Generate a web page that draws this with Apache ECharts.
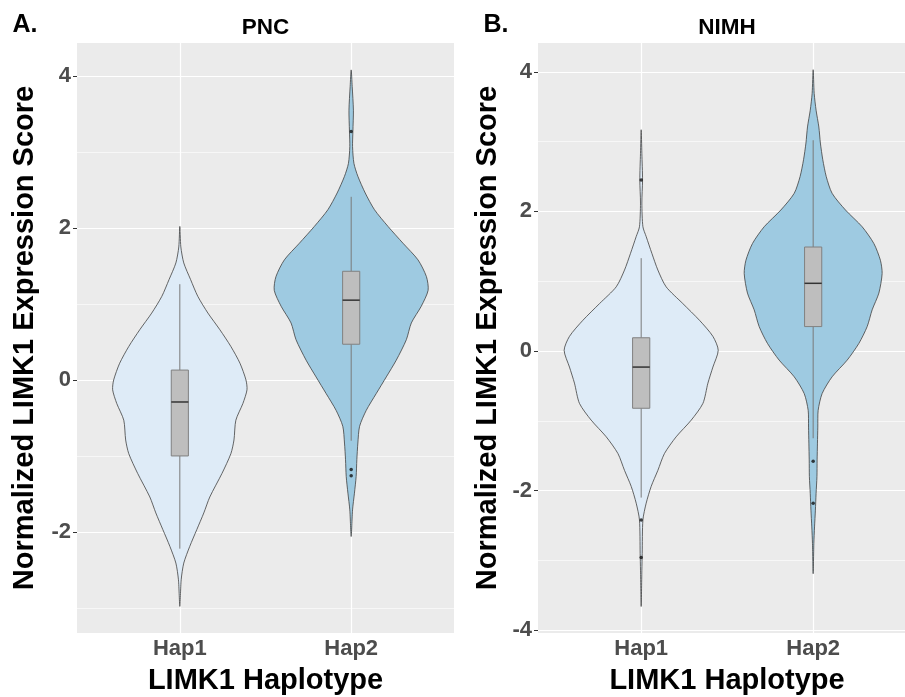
<!DOCTYPE html>
<html>
<head>
<meta charset="utf-8">
<script src="https://cdn.jsdelivr.net/npm/echarts@6/dist/echarts.min.js"></script>
<style>
  * { margin: 0; padding: 0; }
  body { background: #fff; }
  #main { width: 905px; height: 697px; }
</style>
</head>
<body>
<div id="main"></div>
<script>
// categories on the x axis (positions 1 and 2)
const categories = ['Hap1', 'Hap2'];
const fills = ['#DEEBF7', '#9ECAE1'];

// violin outlines: value, half width (x-axis units)
const pncHap1Val = [2.02, 1.75, 1.54, 1.32, 1.10, 0.88, 0.66, 0.44, 0.22, 0, -0.13, -0.31, -0.53, -0.79, -0.97, -1.23, -1.54, -1.75, -1.97, -2.19, -2.41, -2.63, -2.98];
const pncHap1Half = [0, 0.006, 0.023, 0.063, 0.105, 0.164, 0.234, 0.298, 0.351, 0.386, 0.392, 0.368, 0.327, 0.316, 0.298, 0.246, 0.175, 0.140, 0.099, 0.058, 0.023, 0.008, 0];
const pncHap2Val = [4.08, 3.86, 3.55, 3.27, 3.07, 2.85, 2.68, 2.46, 2.24, 2.02, 1.80, 1.58, 1.36, 1.18, 0.97, 0.75, 0.53, 0.26, 0.04, -0.18, -0.40, -0.61, -0.83, -1.05, -1.27, -1.49, -1.71, -2.06];
const pncHap2Half = [0, 0.006, 0.013, 0.010, 0.008, 0.016, 0.039, 0.082, 0.136, 0.215, 0.302, 0.390, 0.439, 0.449, 0.409, 0.351, 0.322, 0.263, 0.205, 0.146, 0.088, 0.049, 0.039, 0.033, 0.029, 0.019, 0.008, 0];
const nimhHap1Val = [3.17, 2.83, 2.45, 2.12, 1.78, 1.64, 1.40, 1.16, 0.92, 0.68, 0.44, 0.21, 0.01, -0.23, -0.46, -0.75, -0.99, -1.23, -1.47, -1.71, -1.94, -2.18, -2.42, -2.90, -3.14, -3.66];
const nimhHap1Half = [0, 0.004, 0.008, 0.004, 0.010, 0.029, 0.062, 0.097, 0.145, 0.242, 0.339, 0.417, 0.448, 0.417, 0.388, 0.359, 0.291, 0.203, 0.135, 0.097, 0.058, 0.029, 0.010, 0.006, 0.004, 0];
const nimhHap2Val = [4.03, 3.69, 3.45, 3.21, 2.98, 2.74, 2.50, 2.26, 2.02, 1.78, 1.54, 1.30, 1.11, 0.83, 0.59, 0.35, 0.11, -0.13, -0.37, -0.61, -0.85, -1.09, -1.32, -1.56, -1.80, -2.04, -2.28, -2.52, -2.76, -3.19];
const nimhHap2Half = [0, 0.006, 0.017, 0.033, 0.042, 0.056, 0.076, 0.110, 0.188, 0.285, 0.353, 0.391, 0.401, 0.382, 0.343, 0.314, 0.266, 0.198, 0.110, 0.052, 0.029, 0.027, 0.025, 0.023, 0.022, 0.017, 0.013, 0.008, 0.004, 0];

// box stats: [lower whisker, q1, median, q3, upper whisker]
const pncBox = [[-2.22, -1.00, -0.29, 0.13, 1.26], [-0.80, 0.47, 1.05, 1.43, 2.41]];
const nimhBox = [[-2.10, -0.82, -0.23, 0.19, 1.33], [-1.25, 0.35, 0.97, 1.49, 3.02]];

// outliers: [category position, value]
const pncOutliers = [[2, 3.27], [2, -1.18], [2, -1.26]];
const nimhOutliers = [[1, 2.45], [1, -2.42], [1, -2.96], [2, -1.58], [2, -2.18]];

// tick values
const xTicks = [1, 2];
const pncMajor = [-2, 0, 2, 4];
const pncMinor = [-3, -1, 1, 3];
const nimhMajor = [-4, -2, 0, 2, 4];
const nimhMinor = [-3, -1, 1, 3];

const font = '"Liberation Sans", Arial, sans-serif';

function makeRender(profiles, boxes) {
  return function (params, api) {
    const i = params.dataIndex;
    const pos = api.value(0);
    const p = profiles[i];
    const pts = [];
    for (let k = 0; k < p.v.length; k++) pts.push(api.coord([pos + p.w[k], p.v[k]]));
    for (let k = p.v.length - 2; k >= 1; k--) pts.push(api.coord([pos - p.w[k], p.v[k]]));
    const b = boxes[i];
    const bw = 0.05;
    const tl = api.coord([pos - bw, b[3]]);
    const br = api.coord([pos + bw, b[1]]);
    const m1 = api.coord([pos - bw, b[2]]);
    const m2 = api.coord([pos + bw, b[2]]);
    const wt = api.coord([pos, b[4]]);
    const wb = api.coord([pos, b[0]]);
    const q3 = api.coord([pos, b[3]]);
    const q1 = api.coord([pos, b[1]]);
    return {
      type: 'group',
      children: [
        { type: 'polygon', shape: { points: pts, smooth: 0.25 }, style: { fill: fills[i], stroke: '#404040', lineWidth: 0.8 } },
        { type: 'line', shape: { x1: wt[0], y1: wt[1], x2: q3[0], y2: q3[1] }, style: { stroke: '#7a7a7a', lineWidth: 1 } },
        { type: 'line', shape: { x1: q1[0], y1: q1[1], x2: wb[0], y2: wb[1] }, style: { stroke: '#7a7a7a', lineWidth: 1 } },
        { type: 'rect', shape: { x: tl[0], y: tl[1], width: br[0] - tl[0], height: br[1] - tl[1] }, style: { fill: '#BEBEBE', stroke: '#808080', lineWidth: 1 } },
        { type: 'line', shape: { x1: m1[0], y1: m1[1], x2: m2[0], y2: m2[1] }, style: { stroke: '#333', lineWidth: 1.5 } }
      ]
    };
  };
}

function gridLines(idx, vals, width, horizontal) {
  return {
    type: 'scatter', xAxisIndex: idx, yAxisIndex: idx, data: [], z: 1, silent: true,
    markLine: {
      z: 1, silent: true, symbol: ['none', 'none'], animation: false,
      label: { show: false },
      lineStyle: { color: '#FFFFFF', width: width, type: 'solid' },
      emphasis: { disabled: true },
      data: vals.map(v => horizontal ? { yAxis: v } : { xAxis: v })
    }
  };
}

const labelStyle = { color: '#4D4D4D', fontSize: 22, fontWeight: 'bold', fontFamily: font };

function xAxis(idx, max) {
  return {
    type: 'value', gridIndex: idx, min: 0.4, max: max,
    axisLine: { show: false }, splitLine: { show: false },
    axisTick: { show: true, customValues: xTicks, length: 4, lineStyle: { color: '#333', width: 1 } },
    axisLabel: Object.assign({ customValues: xTicks, margin: 5, formatter: v => categories[Math.round(v) - 1] }, labelStyle)
  };
}
function yAxis(idx, min, max, major) {
  return {
    type: 'value', gridIndex: idx, min: min, max: max,
    axisLine: { show: false }, splitLine: { show: false },
    axisTick: { show: true, customValues: major, length: 4, lineStyle: { color: '#333', width: 1 } },
    axisLabel: Object.assign({ customValues: major, margin: 6 }, labelStyle)
  };
}

const chart = echarts.init(document.getElementById('main'));
chart.setOption({
  animation: false,
  grid: [
    { left: 77, top: 43, width: 377, height: 590, show: true, backgroundColor: '#EBEBEB', borderWidth: 0 },
    { left: 538, top: 43, right: 0, height: 590, show: true, backgroundColor: '#EBEBEB', borderWidth: 0 }
  ],
  xAxis: [xAxis(0, 2.6), xAxis(1, 2.534)],
  yAxis: [yAxis(0, -3.33, 4.434, pncMajor), yAxis(1, -4.04, 4.413, nimhMajor)],
  series: [
    gridLines(0, pncMinor, 0.6, true),
    gridLines(0, pncMajor, 1.2, true),
    gridLines(0, xTicks, 1.2, false),
    gridLines(1, nimhMinor, 0.6, true),
    gridLines(1, nimhMajor, 1.2, true),
    gridLines(1, xTicks, 1.2, false),
    {
      type: 'custom', xAxisIndex: 0, yAxisIndex: 0, z: 5, silent: true,
      renderItem: makeRender([{ v: pncHap1Val, w: pncHap1Half }, { v: pncHap2Val, w: pncHap2Half }], pncBox),
      data: xTicks.map((x, i) => [x, pncBox[i][2]])
    },
    {
      type: 'custom', xAxisIndex: 1, yAxisIndex: 1, z: 5, silent: true,
      renderItem: makeRender([{ v: nimhHap1Val, w: nimhHap1Half }, { v: nimhHap2Val, w: nimhHap2Half }], nimhBox),
      data: xTicks.map((x, i) => [x, nimhBox[i][2]])
    },
    { type: 'scatter', xAxisIndex: 0, yAxisIndex: 0, z: 6, silent: true, symbolSize: 3.5, itemStyle: { color: '#111' }, data: pncOutliers },
    { type: 'scatter', xAxisIndex: 1, yAxisIndex: 1, z: 6, silent: true, symbolSize: 3.5, itemStyle: { color: '#111' }, data: nimhOutliers }
  ],
  graphic: [
    { type: 'text', x: 25, y: 25, style: { text: 'A.', font: 'bold 25px ' + font, fill: '#000', align: 'center', verticalAlign: 'middle' } },
    { type: 'text', x: 496, y: 25, style: { text: 'B.', font: 'bold 25px ' + font, fill: '#000', align: 'center', verticalAlign: 'middle' } },
    { type: 'text', x: 265.5, y: 28, style: { text: 'PNC', font: 'bold 22.5px ' + font, fill: '#000', align: 'center', verticalAlign: 'middle' } },
    { type: 'text', x: 727, y: 28, style: { text: 'NIMH', font: 'bold 22.5px ' + font, fill: '#000', align: 'center', verticalAlign: 'middle' } },
    { type: 'text', x: 265.5, y: 681, style: { text: 'LIMK1 Haplotype', font: 'bold 29px ' + font, fill: '#000', align: 'center', verticalAlign: 'middle' } },
    { type: 'text', x: 727, y: 681, style: { text: 'LIMK1 Haplotype', font: 'bold 29px ' + font, fill: '#000', align: 'center', verticalAlign: 'middle' } },
    { type: 'text', x: 25, y: 338, rotation: Math.PI / 2, style: { text: 'Normalized LIMK1 Expression Score', font: 'bold 29px ' + font, fill: '#000', align: 'center', verticalAlign: 'middle' } },
    { type: 'text', x: 488, y: 338, rotation: Math.PI / 2, style: { text: 'Normalized LIMK1 Expression Score', font: 'bold 29px ' + font, fill: '#000', align: 'center', verticalAlign: 'middle' } }
  ]
});
</script>
</body>
</html>
